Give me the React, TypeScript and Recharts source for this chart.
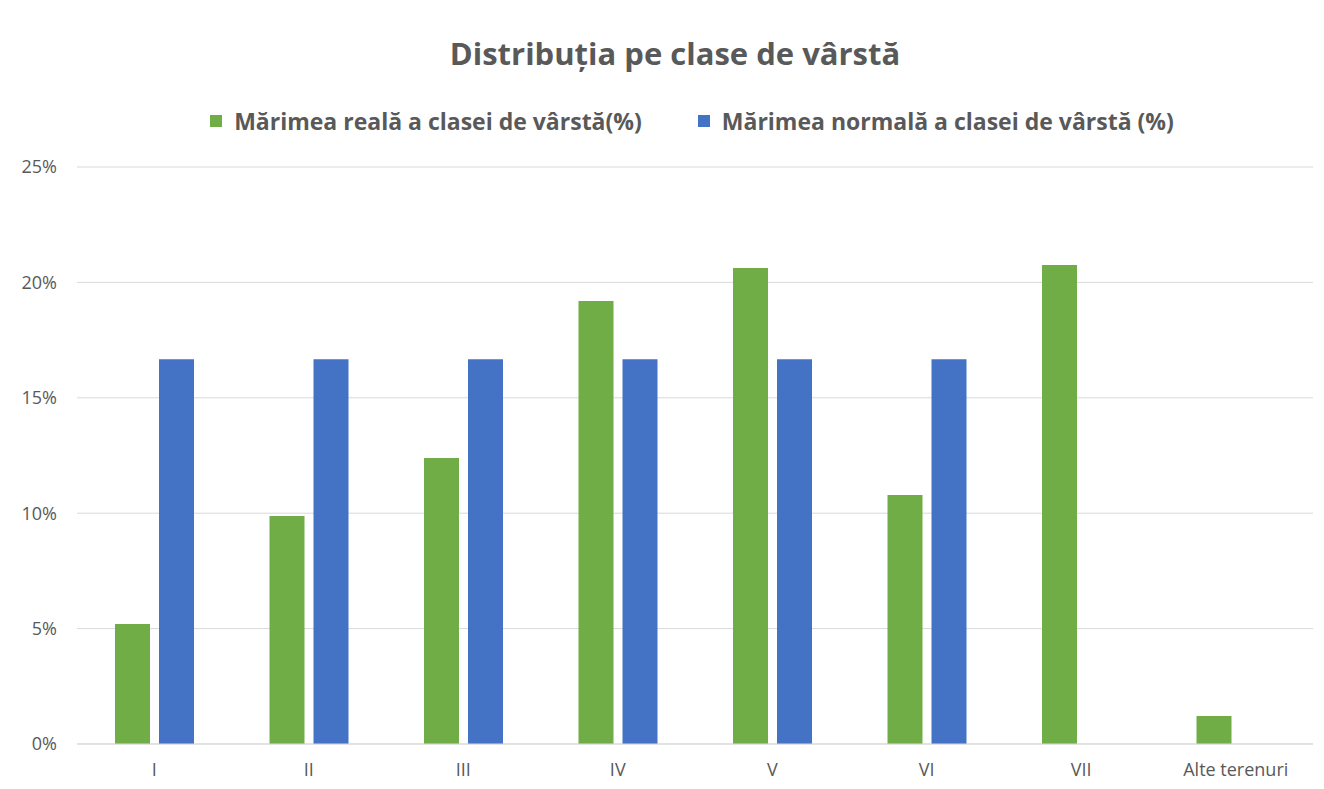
import React from 'react';
import { BarChart, Bar, XAxis, YAxis, CartesianGrid, Legend } from 'recharts';

const categories = ['I', 'II', 'III', 'IV', 'V', 'VI', 'VII', 'Alte terenuri'];
const realValues = [5.2, 9.88, 12.39, 19.19, 20.62, 10.79, 20.75, 1.21];
const normalValues = [16.67, 16.67, 16.67, 16.67, 16.67, 16.67, null, null];
const yTicks = [0, 5, 10, 15, 20, 25];
const seriesNames = ['Mărimea reală a clasei de vârstă(%)', 'Mărimea normală a clasei de vârstă (%)'];
const title = 'Distribuția pe clase de vârstă';

const data = categories.map((c, i) => ({ cat: c, real: realValues[i], normal: normalValues[i] }));

const FONT = '"Open Sans", Lato, sans-serif';
const TEXT = '#595959';

const renderLegend = (props: any) => {
  const payload = [...(props.payload || [])].sort(
    (a: any, b: any) => seriesNames.indexOf(a.value) - seriesNames.indexOf(b.value)
  );
  return (
    <div style={{ display: 'flex', justifyContent: 'center', paddingLeft: 60, fontFamily: FONT, fontWeight: 700, fontSize: 23, color: TEXT, lineHeight: '26px' }}>
      {payload.map((p: any, i: number) => (
        <div key={i} style={{ display: 'flex', alignItems: 'center', marginLeft: i === 0 ? 0 : 56 }}>
          <span style={{ display: 'inline-block', width: 12, height: 12, background: p.color, marginRight: 12 }} />
          <span>{p.value}</span>
        </div>
      ))}
    </div>
  );
};

export default function App() {
  return (
    <div style={{ position: 'absolute', left: 0, top: 0, width: 1324, height: 789, background: '#fff' }}>
      <div style={{ position: 'absolute', top: 32, left: 13, width: 1324, textAlign: 'center', fontFamily: FONT, fontWeight: 700, fontSize: 31, color: TEXT }}>
        {title}
      </div>
      <BarChart
        width={1324}
        height={789}
        data={data}
        margin={{ top: 141, right: 11, bottom: 15, left: 0 }}
        barSize={35}
        barGap={9}
      >
        <CartesianGrid vertical={false} stroke="#D9D9D9" strokeWidth={1} />
        <XAxis
          dataKey="cat"
          height={30}
          axisLine={{ stroke: '#D9D9D9' }}
          tickLine={false}
          tickMargin={13}
          tick={{ fill: TEXT, fontSize: 18, fontFamily: FONT }}
          interval={0}
        />
        <YAxis
          width={77}
          domain={[0, 25]}
          ticks={yTicks}
          tickFormatter={(v: number) => `${v}%`}
          axisLine={false}
          tickLine={false}
          tickMargin={14}
          tick={{ fill: TEXT, fontSize: 18, fontFamily: FONT }}
        />
        <Legend
          verticalAlign="top"
          align="center"
          content={renderLegend}
          wrapperStyle={{ top: 108, left: 0, width: 1324 }}
        />
        <Bar dataKey="real" name={seriesNames[0]} fill="#70AD47" isAnimationActive={false} />
        <Bar dataKey="normal" name={seriesNames[1]} fill="#4472C4" isAnimationActive={false} />
      </BarChart>
    </div>
  );
}
